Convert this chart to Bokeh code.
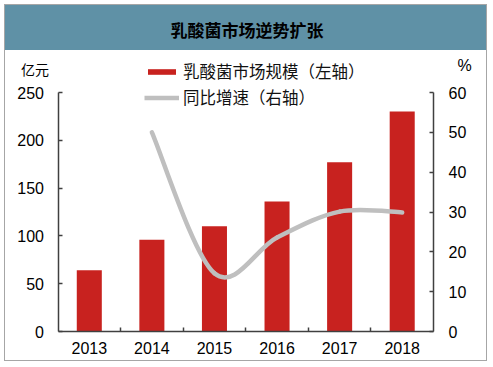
from bokeh.plotting import figure
from bokeh.models import Range1d, LinearAxis, FixedTicker, Label, Legend, LegendItem
from bokeh.embed import file_html
from bokeh.resources import INLINE

# ---- data ----
years = [2013, 2014, 2015, 2016, 2017, 2018]
year_labels = ["2013", "2014", "2015", "2016", "2017", "2018"]
market_size = [64, 96, 110, 136, 177, 230]          # 亿元
growth_years = [2014, 2015, 2016, 2017, 2018]
growth_pct = [50.0, 14.6, 23.6, 30.1, 29.9]          # %
left_ticks = [0, 50, 100, 150, 200, 250]
right_ticks = [0, 10, 20, 30, 40, 50, 60]

title_text = "乳酸菌市场逆势扩张"
bar_label = "乳酸菌市场规模（左轴）"
line_label = "同比增速（右轴）"
left_unit = "亿元"
right_unit = "%"

# ---- styles / layout ----
BAR_COLOR = "#C8221F"
LINE_COLOR = "#BFBFBF"
AXIS_COLOR = "#404040"
BAND_COLOR = "#5F91A6"
CJK = "Noto Sans CJK SC"
LATIN = "Liberation Sans"

W, H = 483, 357                 # content box of the bordered chart
TOP = 45                        # height of the title band
# pixel geometry (inside the content box) used to place the plot area
ax_left, ax_right = 52.5, 428.0     # left / right axis lines
ax_zero, ax_top = 326.0, 87.0       # y of value 0 and of the top tick

x_lo, x_hi = years[0] - 0.5, years[-1] + 0.5
left_max, right_max = left_ticks[-1], right_ticks[-1]
xppu = (ax_right - ax_left) / (x_hi - x_lo)
lppu = (ax_zero - ax_top) / left_max
rppu = (ax_zero - ax_top) / right_max

x_range = Range1d(x_lo - ax_left / xppu, x_hi + (W - ax_right) / xppu)
y_range = Range1d(-(H - ax_zero) / lppu, (ax_zero - TOP) / lppu)
pct_range = Range1d(-(H - ax_zero) / rppu, (ax_zero - TOP) / rppu)

p = figure(width=W, height=H, output_backend="svg", toolbar_location=None,
           x_range=x_range, y_range=y_range,
           min_border_left=0, min_border_right=0, min_border_bottom=0,
           min_border_top=TOP, title=title_text)
p.outline_line_color = None
p.xgrid.visible = False
p.ygrid.visible = False
p.background_fill_color = "white"
p.border_fill_color = None
p.styles = {
    "border": "1px solid #A6A6A6",
    "margin": "4px 0 0 4px",
    "background": f"linear-gradient(to bottom, {BAND_COLOR} 0px, {BAND_COLOR} {TOP}px, #ffffff {TOP}px)",
}

p.title.align = "center"
p.title.offset = -2
p.title.standoff = 18
p.title.text_font = CJK
p.title.text_font_size = "17px"
p.title.text_font_style = "bold"
p.title.text_color = "black"

p.extra_y_ranges = {"pct": pct_range}


def style_axis(ax, standoff):
    ax.axis_line_color = AXIS_COLOR
    ax.axis_line_width = 1.5
    ax.major_tick_line_color = AXIS_COLOR
    ax.major_tick_line_width = 1.5
    ax.major_label_standoff = standoff
    ax.major_label_text_font = LATIN
    ax.major_label_text_font_size = "16px"
    ax.major_label_text_color = "black"


# x axis: labels at the categories, small inward ticks between them
xa = p.xaxis[0]
mids = [(a + b) / 2 for a, b in zip(years, years[1:])]
xa.ticker = FixedTicker(ticks=years, minor_ticks=mids)
xa.major_label_overrides = {y: l for y, l in zip(years, year_labels)}
xa.fixed_location = 0
xa.bounds = (x_lo, x_hi)
style_axis(xa, 10)
xa.major_tick_in = 0
xa.major_tick_out = 0
xa.minor_tick_in = 4
xa.minor_tick_out = 0
xa.minor_tick_line_color = AXIS_COLOR
xa.minor_tick_line_width = 1.5

# left axis
ya = p.yaxis[0]
ya.ticker = FixedTicker(ticks=left_ticks)
ya.fixed_location = x_lo
ya.bounds = (0, left_max)
style_axis(ya, 14)
ya.major_tick_in = 4
ya.major_tick_out = 0
ya.minor_tick_line_color = None

# right axis
ra = LinearAxis(y_range_name="pct", ticker=FixedTicker(ticks=right_ticks),
                bounds=(0, right_max), fixed_location=x_hi)
style_axis(ra, 15)
ra.major_tick_in = 4
ra.major_tick_out = 0
ra.minor_tick_line_color = None
p.add_layout(ra, "right")

# bars
bars = p.vbar(x=years, top=market_size, width=0.4, fill_color=BAR_COLOR, line_color=None)

# smoothed growth line (Catmull-Rom -> cubic bezier through the data points)
xs, ys = growth_years, growth_pct
n = len(xs)
x0, y0, x1, y1, cx0, cy0, cx1, cy1 = ([] for _ in range(8))
for i in range(n - 1):
    ip, inn = max(i - 1, 0), min(i + 2, n - 1)
    x0.append(xs[i]); y0.append(ys[i])
    x1.append(xs[i + 1]); y1.append(ys[i + 1])
    cx0.append(xs[i] + (xs[i + 1] - xs[ip]) / 6)
    cy0.append(ys[i] + (ys[i + 1] - ys[ip]) / 6)
    cx1.append(xs[i + 1] - (xs[inn] - xs[i]) / 6)
    cy1.append(ys[i + 1] - (ys[inn] - ys[i]) / 6)
p.bezier(x0=x0, y0=y0, x1=x1, y1=y1, cx0=cx0, cy0=cy0, cx1=cx1, cy1=cy1,
         y_range_name="pct", line_color=LINE_COLOR, line_width=4.5, line_cap="round")
line_proxy = p.line(x=growth_years, y=growth_pct, y_range_name="pct",
                    line_color=LINE_COLOR, line_width=4.5, visible=False)

legend = Legend(items=[LegendItem(label=bar_label, renderers=[bars]),
                       LegendItem(label=line_label, renderers=[line_proxy])],
                location=(139, 253))
legend.glyph_width = 35
legend.glyph_height = 7
legend.label_height = 22
legend.spacing = 2
legend.padding = 0
legend.margin = 0
legend.label_standoff = 4
legend.border_line_color = None
legend.background_fill_alpha = 0
legend.label_text_font = CJK
legend.label_text_font_size = "16.5px"
legend.label_text_color = "#111111"
p.add_layout(legend)

p.add_layout(Label(x=x_lo, y=left_max, x_offset=-37, y_offset=24, text=left_unit,
                   text_align="left", text_baseline="middle", text_font=CJK,
                   text_font_size="14px", text_color="black"))
p.add_layout(Label(x=x_hi, y=right_max, y_range_name="pct", x_offset=24,
                   y_offset=27, text=right_unit, text_align="left", text_baseline="middle",
                   text_font=LATIN, text_font_size="16px", text_color="black"))

open("out.html", "w").write(file_html(p, INLINE))
